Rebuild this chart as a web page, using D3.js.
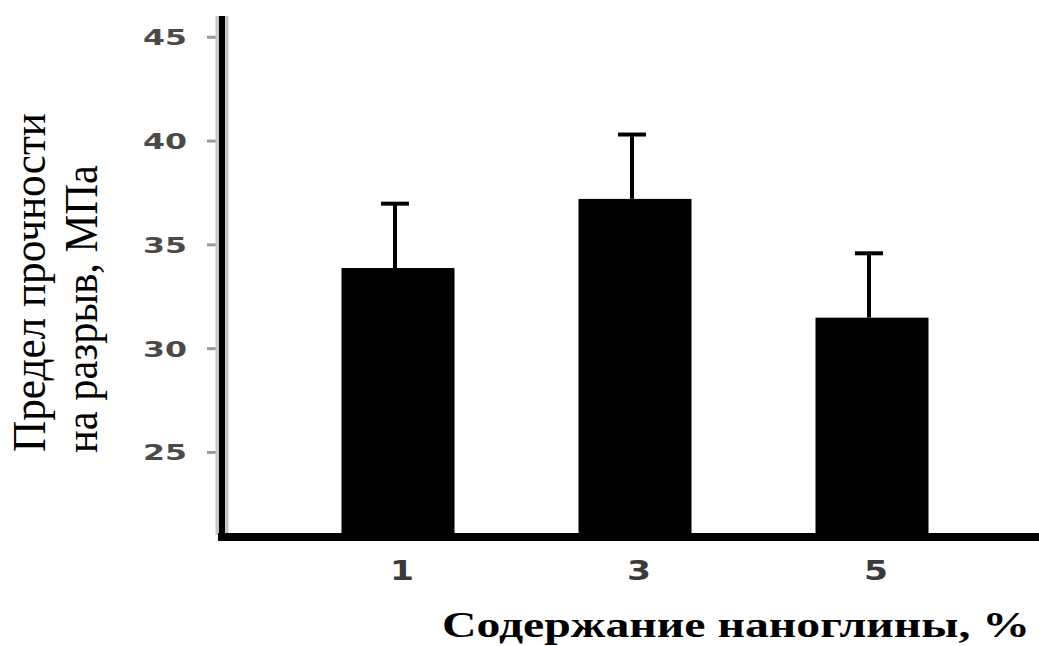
<!DOCTYPE html>
<html>
<head>
<meta charset="utf-8">
<script src="https://cdn.jsdelivr.net/npm/d3@7"></script>
<style>
    body { margin: 0; background: #fff; }
    svg { display: block; }
</style>
</head>
<body>
<svg id="chart" width="1039" height="646"></svg>
<script>
// data
var categories = ["1", "3", "5"];
var strength = [33.86, 37.19, 31.47];
var sdev = [3.1, 3.1, 3.1];
var yTicks = [25, 30, 35, 40, 45];
var xTitle = "Содержание наноглины, %";
var yTitle = ["Предел прочности", "на разрыв, МПа"];

var data = categories.map(function(c, i) {
    return {cat: c, value: strength[i], err: sdev[i]};
});

var svg = d3.select("#chart");
var W = 1039, H = 646;
let m = {l:222, r:0, t:16, b:111}; // margin

var y = d3.scaleLinear().domain([21, 46]).range([H - m.b, m.t]);
var x = d3.scalePoint().domain(categories).range([398, 872]);
var barW = 113;
var capW = 28;

// bars
svg.append("g").selectAll("rect.bar")
    .data(data)
    .join("rect")
    .attr("class", "bar")
    .attr("x", d => x(d.cat) - barW / 2)
    .attr("width", barW)
    .attr("y", d => y(d.value))
    .attr("height", d => y(21) - y(d.value))
    .attr("fill", "#000");

// error bars (upper only)
var eg = svg.append("g").attr("stroke", "#000").attr("stroke-width", 4);
eg.selectAll("line.stem")
    .data(data)
    .join("line")
    .attr("x1", d => x(d.cat) - 3)
    .attr("x2", d => x(d.cat) - 3)
    .attr("y1", d => y(d.value))
    .attr("y2", d => y(d.value + d.err));
eg.selectAll("line.cap")
    .data(data)
    .join("line")
    .attr("x1", d => x(d.cat) - 3 - capW / 2)
    .attr("x2", d => x(d.cat) - 3 + capW / 2)
    .attr("y1", d => y(d.value + d.err))
    .attr("y2", d => y(d.value + d.err));

// y axis
var yAxis = svg.append("g")
    .attr("transform", "translate(" + m.l + ",0)")
    .call(d3.axisLeft(y).tickValues(yTicks).tickSize(15).tickPadding(20).tickFormat(d3.format("d")));
yAxis.select(".domain").remove();
yAxis.selectAll(".tick line").attr("stroke", "#999").attr("stroke-width", 3);
yAxis.selectAll(".tick text")
    .attr("fill", "#4a4a4a")
    .attr("dy", "0.36em")
    .style("font-family", "'DejaVu Sans', Verdana, sans-serif")
    .style("font-weight", "bold")
    .style("font-size", "22px")
    .attr("textLength", 44)
    .attr("lengthAdjust", "spacingAndGlyphs");

// axis lines
svg.append("line")
    .attr("x1", m.l).attr("x2", m.l)
    .attr("y1", m.t).attr("y2", y(21))
    .attr("stroke", "#c8c8c8").attr("stroke-width", 13);
svg.append("line")
    .attr("x1", m.l).attr("x2", m.l)
    .attr("y1", m.t).attr("y2", y(21))
    .attr("stroke", "#000").attr("stroke-width", 6);
svg.append("line")
    .attr("x1", 218).attr("x2", W)
    .attr("y1", y(21) + 2).attr("y2", y(21) + 2)
    .attr("stroke", "#000").attr("stroke-width", 8);

// x tick labels
svg.append("g").selectAll("text")
    .data(categories)
    .join("text")
    .attr("x", d => x(d) + 4)
    .attr("y", 580)
    .attr("text-anchor", "middle")
    .attr("fill", "#3a3a3a")
    .style("font-family", "'DejaVu Sans', Verdana, sans-serif")
    .style("font-weight", "bold")
    .style("font-size", "26px")
    .attr("textLength", 24)
    .attr("lengthAdjust", "spacingAndGlyphs")
    .text(d => d);

// axis titles
svg.append("text")
    .attr("x", 442)
    .attr("y", 637)
    .attr("fill", "#000")
    .style("font-family", "'Liberation Serif', 'Times New Roman', serif")
    .style("font-weight", "bold")
    .style("font-size", "36px")
    .attr("textLength", 588)
    .attr("lengthAdjust", "spacingAndGlyphs")
    .text(xTitle);

var yLab = [{x: 45, y: 452, len: 339}, {x: 97, y: 453, len: 288}];
svg.append("g").selectAll("text")
    .data(yTitle)
    .join("text")
    .attr("transform", (d, i) => "translate(" + yLab[i].x + "," + yLab[i].y + ") rotate(-90)")
    .attr("fill", "#000")
    .style("font-family", "'Liberation Serif', 'Times New Roman', serif")
    .style("font-size", "46px")
    .attr("textLength", (d, i) => yLab[i].len)
    .attr("lengthAdjust", "spacingAndGlyphs")
    .text(d => d);
</script>
</body>
</html>
